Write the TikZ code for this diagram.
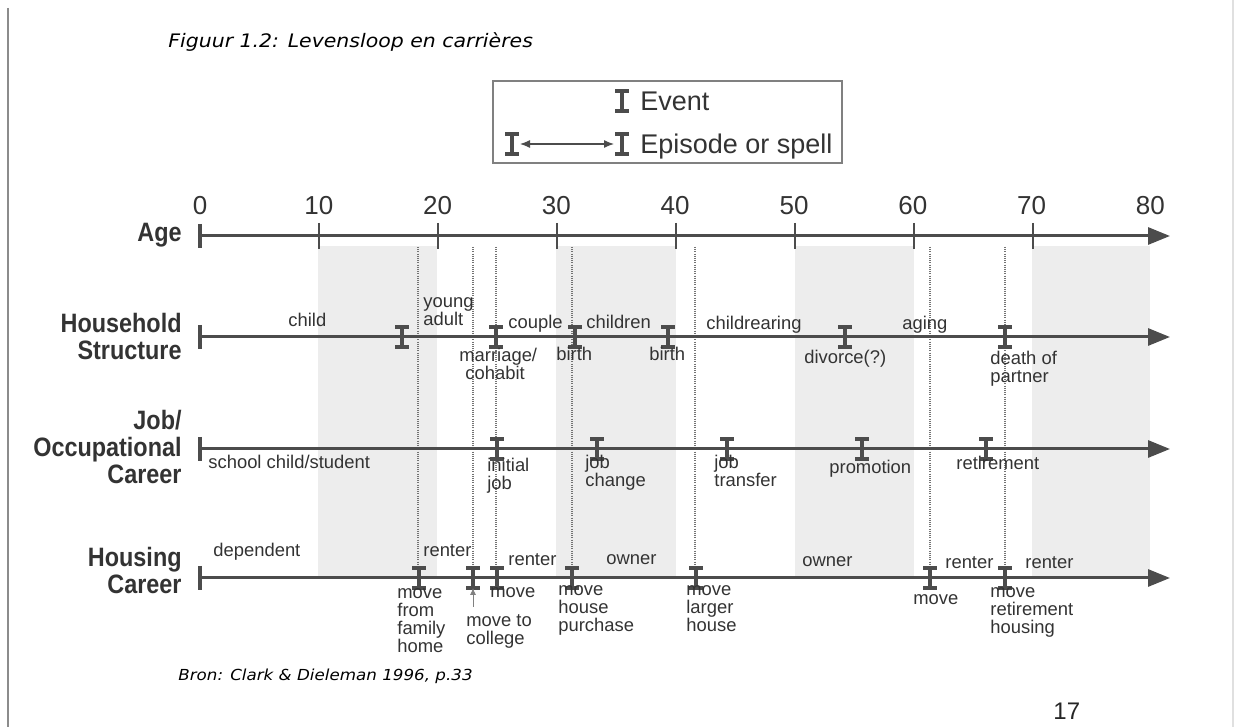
\documentclass[tikz,border=0pt]{standalone}
\usepackage{fontspec}
\setmainfont{Liberation Sans}
\newfontfamily\rowfont[FakeStretch=0.88]{Liberation Sans}
\newfontfamily\capfont[FakeStretch=1.1]{DejaVu Sans}
\usetikzlibrary{arrows.meta}

\begin{document}
\begin{tikzpicture}[x=0.5pt, y=-0.5pt,
  axis/.style={draw=black!70, line width=1.5pt, -{Triangle[length=11pt, width=8.5pt]}},
  tick/.style={draw=black!70, line width=1.2pt},
  vline/.style={draw=black!55, line width=1.1pt, dash pattern=on 0.5pt off 0.6pt},
  band/.style={fill=black!7},
  lbl/.style={font=\fontsize{9.2}{9}\selectfont, text=black!80, inner sep=0pt, align=left, execute at begin node=\strut},
  rowlbl/.style={font=\rowfont\bfseries\fontsize{13.3}{13.5}\selectfont, text=black!80, inner sep=0pt, align=right, execute at begin node=\strut},
  num/.style={font=\fontsize{13}{13}\selectfont, text=black!80, inner sep=0pt},
  leg/.style={font=\fontsize{13.5}{14}\selectfont, text=black!80, inner sep=0pt},
  evt/.pic={\draw[black!70, line width=1.6pt] (-7,-10) -- (7,-10) (0,-10) -- (0,10) (-7,10) -- (7,10);}]
  \useasboundingbox (0,0) rectangle (1255,727);
  \fill[white] (0,0) rectangle (1255,727);

  % 1. 页面边线与标题
  \draw[black!45, line width=0.8pt] (8,8) -- (8,727);
  \draw[black!12, line width=0.6pt] (1233,0) -- (1233,727);
  \node[font=\capfont\itshape\fontsize{9.3}{10}\selectfont, anchor=base west, inner sep=0pt] (title) at (168,48) {Figuur 1.2: Levensloop en carrières};
  \node[font=\capfont\itshape\fontsize{7.6}{9}\selectfont, anchor=base west, inner sep=0pt] (bron) at (178,681) {Bron: Clark \& Dieleman 1996, p.33};
  \node[font=\fontsize{12}{12}\selectfont, anchor=base west, inner sep=0pt, text=black!85] (page) at (1053,719) {17};

  % 2. 阴影带与虚线 (最底层)
  \foreach \xa/\xb in {318/437, 556/676, 795/914, 1032/1150}
    \fill[band] (\xa,246) rectangle (\xb,578);
  \foreach \xv in {418,473,496,572,695,930,1005}
    \draw[vline] (\xv,247) -- (\xv,578);

  % 3. 图例
  \draw[black!50, line width=0.8pt] (493,81) rectangle (842,163);
  \pic at (622,101) {evt};
  \node[leg, anchor=base west] (event) at (640,111) {Event};
  \pic at (512,144) {evt};
  \pic at (622,144) {evt};
  \coordinate (epL) at (520,144);
  \coordinate (epR) at (614,144);
  \draw[black!70, line width=0.6pt, {Latex[length=5pt,width=4pt]}-{Latex[length=5pt,width=4pt]}] (epL) -- (epR);
  \node[leg, anchor=base west] (spell) at (640,154) {Episode or spell};

  % 4. 坐标轴
  \foreach \nm/\yy in {age/236, hh/337, job/449, hs/578} {
    \coordinate (\nm0) at (200,\yy);
    \coordinate (\nm1) at (1170,\yy);
    \draw[axis] (\nm0) -- (\nm1);
    \draw[black!70, line width=1.6pt] (200,\yy-12) -- (200,\yy+12);
  }
  \foreach \k in {1,...,7}
    \draw[tick] ({200+119*\k},223) -- ({200+119*\k},249);
  \foreach \k [evaluate=\k as \v using int(10*\k)] in {0,...,8}
    \node[num, anchor=base] (t\k) at ({200+118.8*\k},215) {\v};

  \node[rowlbl, anchor=base east] (lage) at (182,242) {Age};
  \node[rowlbl, anchor=north east] (lhh) at (182,313) {Household\\Structure};
  \node[rowlbl, anchor=north east] (ljob) at (182,410) {Job/\\Occupational\\Career};
  \node[rowlbl, anchor=north east] (lhs) at (182,547) {Housing\\Career};

  % 5. 事件
  \foreach \xe in {402,496,575,668,845,1005} \pic at (\xe,337) {evt};
  \foreach \xe in {497,597,727,862,986} \pic at (\xe,449) {evt};
  \foreach \xe in {419,473,497,572,696,930,1005} \pic at (\xe,578) {evt};

  % 6. 家庭结构
  \node[lbl, anchor=base west] (hchild) at (288,327) {child};
  \node[lbl, anchor=north west] (hyoung) at (423,297) {young\\adult};
  \node[lbl, anchor=base west] (hcouple) at (508,329) {couple};
  \node[lbl, anchor=base west] (hchildren) at (586,329) {children};
  \node[lbl, anchor=base west] (hrear) at (706,330) {childrearing};
  \node[lbl, anchor=base west] (haging) at (902,330) {aging};
  \node[lbl, anchor=north west] (hmarr) at (459,348) {marriage/\\\hspace{3pt}cohabit};
  \node[lbl, anchor=base west] (hbirth1) at (556,361) {birth};
  \node[lbl, anchor=base west] (hbirth2) at (649,361) {birth};
  \node[lbl, anchor=base west] (hdiv) at (804,364) {divorce(?)};
  \node[lbl, anchor=north west] (hdeath) at (990,351) {death of\\partner};

  % 7. 职业
  \node[lbl, anchor=base west] (jschool) at (208,469) {school child/student};
  \node[lbl, anchor=north west] (jinit) at (487,458) {initial\\job};
  \node[lbl, anchor=north west] (jchange) at (585,455) {job\\change};
  \node[lbl, anchor=north west] (jtrans) at (714,455) {job\\transfer};
  \node[lbl, anchor=base west] (jpromo) at (829,474) {promotion};
  \node[lbl, anchor=base west] (jretire) at (956,470) {retirement};

  % 8. 住房
  \node[lbl, anchor=base west] (sdep) at (213,557) {dependent};
  \node[lbl, anchor=base west] (srent1) at (423,557) {renter};
  \node[lbl, anchor=base west] (srent2) at (508,566) {renter};
  \node[lbl, anchor=base west] (sown1) at (606,565) {owner};
  \node[lbl, anchor=base west] (sown2) at (802,567) {owner};
  \node[lbl, anchor=base west] (srent3) at (945,568) {renter};
  \node[lbl, anchor=base west] (srent4) at (1025,568) {renter};
  \node[lbl, anchor=north west] (sfam) at (397,588) {move\\from\\family\\home};
  \node[lbl, anchor=base west] (smove1) at (490,597) {move};
  \node[lbl, anchor=north west] (scoll) at (466,614) {move to\\college};
  \node[lbl, anchor=north west] (sbuy) at (558,585) {move\\house\\purchase};
  \node[lbl, anchor=north west] (slarge) at (686,585) {move\\larger\\house};
  \node[lbl, anchor=base west] (smove2) at (913,604) {move};
  \node[lbl, anchor=north west] (sret) at (990,587) {move\\retirement\\housing};
  \coordinate (collA) at (473,607);
  \coordinate (collB) at (473,588);
  \draw[black!50, line width=0.4pt, -{Latex[length=3.5pt,width=3pt]}] (collA) -- (collB);
\end{tikzpicture}
\end{document}
